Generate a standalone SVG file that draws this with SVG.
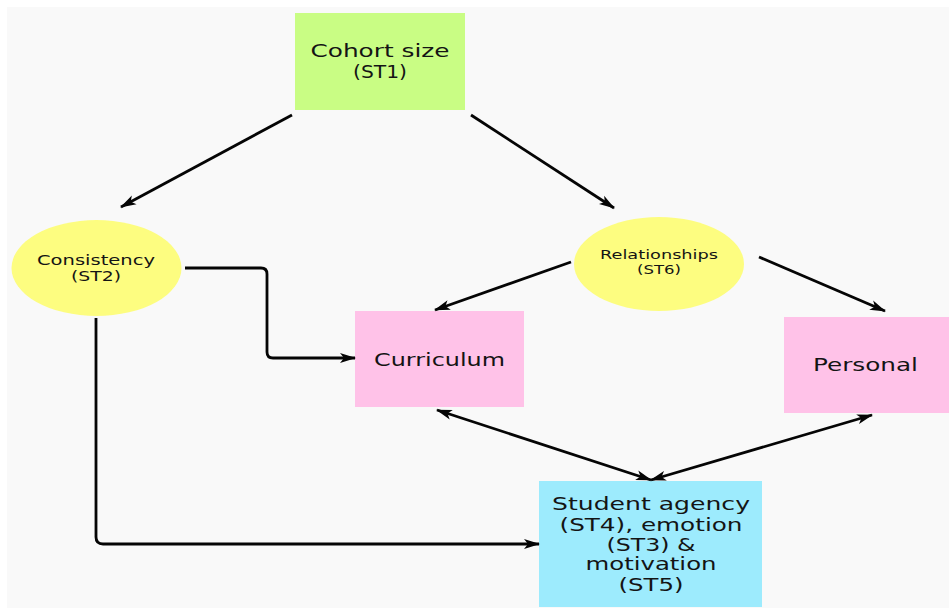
<svg xmlns="http://www.w3.org/2000/svg" width="949" height="608" viewBox="0 0 949 608">
<style>
  text { font-family: "DejaVu Sans", "Liberation Sans", sans-serif; fill: #141414; text-anchor: middle; }
  .big { font-size: 17.5px; }
  .mid { font-size: 13.5px; }
  .small { font-size: 12.5px; }
  .conn { fill: none; stroke: #050505; stroke-width: 2.8; stroke-linejoin: round; }
</style>
<defs>
  <marker id="ah" viewBox="0 0 16 11" refX="15" refY="5.5" markerWidth="16" markerHeight="11" markerUnits="userSpaceOnUse" orient="auto-start-reverse">
    <path d="M0,0.5 L16,5.5 L0,10.5 L4,5.5 z" fill="#050505"/>
  </marker>
</defs>
<rect x="0" y="0" width="949" height="608" fill="#ffffff"/>
<rect x="7" y="7" width="942" height="601" fill="#f9f9f9"/>

<g id="cohort">
  <rect x="295" y="13" width="170" height="97" fill="#c9fd84"/>
  <text class="big" x="380" y="57" textLength="139" lengthAdjust="spacingAndGlyphs">Cohort size</text>
  <text class="big" x="380" y="78" textLength="54" lengthAdjust="spacingAndGlyphs">(ST1)</text>
</g>
<g id="consistency">
  <ellipse cx="96.5" cy="268" rx="85" ry="48" fill="#fdfd80"/>
  <text class="mid" x="96" y="265" textLength="118" lengthAdjust="spacingAndGlyphs">Consistency</text>
  <text class="mid" x="96" y="281" textLength="50" lengthAdjust="spacingAndGlyphs">(ST2)</text>
</g>
<g id="relationships">
  <ellipse cx="659" cy="264" rx="85" ry="47" fill="#fdfd80"/>
  <text class="small" x="659" y="259" textLength="118" lengthAdjust="spacingAndGlyphs">Relationships</text>
  <text class="small" x="659" y="274" textLength="44" lengthAdjust="spacingAndGlyphs">(ST6)</text>
</g>
<g id="curriculum">
  <rect x="355" y="311" width="169" height="96" fill="#ffc2e8"/>
  <text class="big" x="439.5" y="366" textLength="131" lengthAdjust="spacingAndGlyphs">Curriculum</text>
</g>
<g id="personal">
  <rect x="784" y="317" width="165" height="96" fill="#ffc2e8"/>
  <text class="big" x="865.5" y="371" textLength="105" lengthAdjust="spacingAndGlyphs">Personal</text>
</g>
<g id="student">
  <rect x="539" y="481" width="223" height="126" fill="#9debfd"/>
  <text class="big" x="651" y="510" textLength="198" lengthAdjust="spacingAndGlyphs">Student agency</text>
  <text class="big" x="651" y="531" textLength="183" lengthAdjust="spacingAndGlyphs">(ST4), emotion</text>
  <text class="big" x="651" y="551" textLength="89" lengthAdjust="spacingAndGlyphs">(ST3) &amp;</text>
  <text class="big" x="651" y="570" textLength="131" lengthAdjust="spacingAndGlyphs">motivation</text>
  <text class="big" x="651" y="591" textLength="65" lengthAdjust="spacingAndGlyphs">(ST5)</text>
</g>

<g id="connectors">
  <line class="conn" x1="292" y1="115" x2="121" y2="207" marker-end="url(#ah)"/>
  <line class="conn" x1="471" y1="115" x2="614" y2="208" marker-end="url(#ah)"/>
  <path class="conn" d="M185,268 H261 Q267,268 267,274 V352 Q267,358 273,358 H355" stroke-width="3" marker-end="url(#ah)"/>
  <path class="conn" d="M96,318 V537 Q96,544 103,544 H539" stroke-width="3" marker-end="url(#ah)"/>
  <line class="conn" x1="571" y1="262" x2="435" y2="310" marker-end="url(#ah)"/>
  <line class="conn" x1="759" y1="257" x2="885" y2="311" marker-end="url(#ah)"/>
  <line class="conn" x1="437" y1="410" x2="651" y2="480" marker-start="url(#ah)" marker-end="url(#ah)"/>
  <line class="conn" x1="872" y1="415" x2="651" y2="480" marker-start="url(#ah)" marker-end="url(#ah)"/>
</g>
</svg>
